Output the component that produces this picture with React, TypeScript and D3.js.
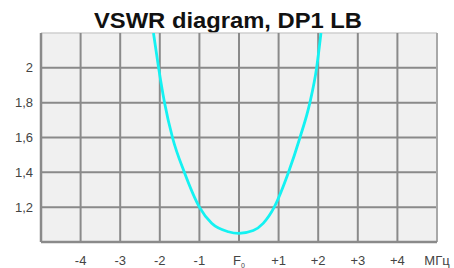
import * as d3 from "d3";

const freq = [-2.16, -2.03, -1.88, -1.68, -1.38, -1.0, -0.69, -0.27, 0, 0.36, 0.61, 0.89, 1.25, 1.54, 1.79, 1.96, 2.07];
const vswr = [2.2, 2.0, 1.8, 1.6, 1.4, 1.2, 1.107, 1.059, 1.05, 1.066, 1.107, 1.2, 1.4, 1.6, 1.8, 2.0, 2.2];
const xTicks = [-4, -3, -2, -1, 0, 1, 2, 3, 4];
const xLabels = ["-4", "-3", "-2", "-1", "F", "+1", "+2", "+3", "+4"];
const yTicks = [1.2, 1.4, 1.6, 1.8, 2];
const yLabels = ["1,2", "1,4", "1,6", "1,8", "2"];

const W = 454, H = 268;
const left = 41, right = 437, top = 33, bottom = 242;

const App = () => {
  const x = d3.scaleLinear().domain([-5, 5]).range([left, right]);
  const y = d3.scaleLinear().domain([1, 2.2]).range([bottom, top]);
  const line = d3.line<number>()
    .x((d, i) => x(freq[i]))
    .y(d => y(d))
    .curve(d3.curveMonotoneX);
  const grid = "#8a8a8a";
  return (
    <svg width={W} height={H} style={{ position: "absolute", left: 0, top: 0, fontFamily: "Liberation Sans, Arial, sans-serif" }}>
      <rect width={W} height={H} fill="#fff" />
      <text x={94} y={28} fontSize={21.5} fontWeight="bold" fill="#111" textLength={268} lengthAdjust="spacingAndGlyphs">VSWR diagram, DP1 LB</text>
      <rect x={left} y={top} width={right - left} height={bottom - top} fill="#f0f0f0" />
      <line x1={left} x2={right} y1={top} y2={top} stroke="#cfcfcf" strokeWidth={1.5} />
      {xTicks.map(t => (
        <line key={"v" + t} x1={x(t)} x2={x(t)} y1={top} y2={bottom} stroke={grid} strokeWidth={2} />
      ))}
      {yTicks.map(t => (
        <line key={"h" + t} x1={left} x2={right} y1={y(t)} y2={y(t)} stroke={grid} strokeWidth={2} />
      ))}
      <line x1={left} x2={left} y1={top} y2={bottom} stroke={grid} strokeWidth={2.5} />
      <line x1={right} x2={right} y1={top} y2={bottom} stroke="#a8a8a8" strokeWidth={2} />
      <line x1={left} x2={right} y1={bottom} y2={bottom} stroke={grid} strokeWidth={2.5} />
      <clipPath id="plot">
        <rect x={left} y={top} width={right - left} height={bottom - top} />
      </clipPath>
      <path d={line(vswr) || ""} fill="none" stroke="#14f2f2" strokeWidth={2.8} clipPath="url(#plot)" />
      {yTicks.map((t, i) => (
        <text key={"yl" + t} x={33} y={y(t) + 4.5} textAnchor="end" fontSize={13} fill="#444">{yLabels[i]}</text>
      ))}
      {xTicks.map((t, i) => (
        <text key={"xl" + t} x={x(t)} y={265} textAnchor="middle" fontSize={13} fill="#444">
          {xLabels[i]}
          {t === 0 && <tspan fontSize={7} dy={3}>0</tspan>}
        </text>
      ))}
      <text x={x(5)} y={265} textAnchor="middle" fontSize={13} fill="#444">МГц</text>
    </svg>
  );
};

export default App;
